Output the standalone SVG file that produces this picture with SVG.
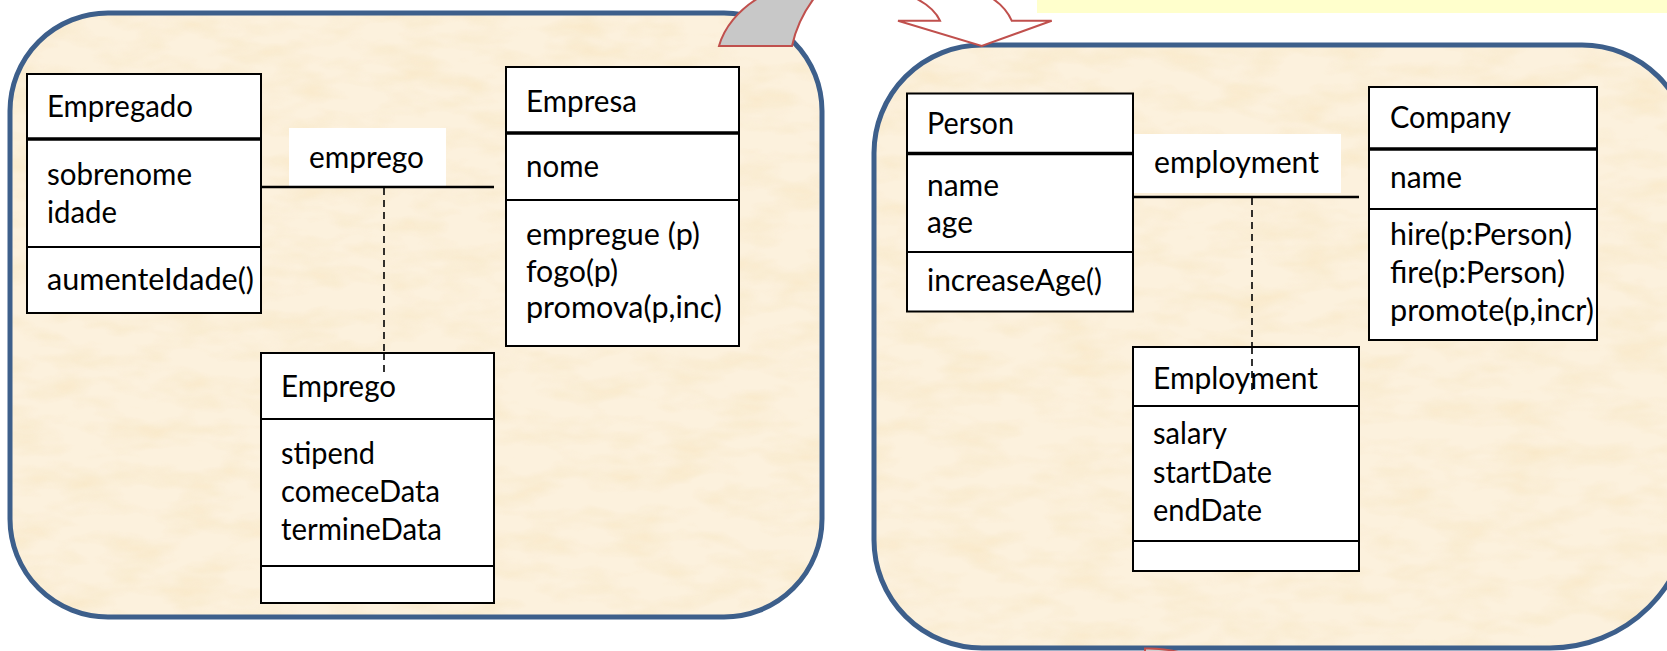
<svg xmlns="http://www.w3.org/2000/svg" width="1667" height="651" viewBox="0 0 1667 651">
  <style>
    .panel-fill { fill: #fcf1dd; }
    .panel-edge { fill: none; stroke: #3d5f8b; stroke-width: 5; }
    .box { fill: #ffffff; stroke: #000000; stroke-width: 2; }
    .div { stroke: #000000; stroke-width: 2; }
    .div-thick { stroke: #000000; stroke-width: 3.5; }
    .label-bg { fill: #ffffff; }
    .assoc { stroke: #000000; stroke-width: 2.5; fill: none; }
    .dash { stroke: #000000; stroke-width: 1.6; stroke-dasharray: 7 5; fill: none; }
    .arrow-red { stroke: #c0504d; stroke-width: 2; }
    text { font-family: Lato, "Liberation Sans", sans-serif; font-size: 30px; fill: #000000; }
  </style>
  <defs>
    <!-- parchment mottling laid over the panel fill -->
    <filter id="parchment" x="0" y="0" width="100%" height="100%" color-interpolation-filters="sRGB">
      <feTurbulence type="fractalNoise" baseFrequency="0.018 0.045" numOctaves="3" seed="7" result="noise"/>
      <feColorMatrix in="noise" type="matrix"
        values="0 0 0 0 0.96  0 0 0 0 0.87  0 0 0 0 0.68  0.8 0 0 0 -0.33" result="tint"/>
      <feComposite in="tint" in2="SourceGraphic" operator="in" result="mottle"/>
      <feMerge>
        <feMergeNode in="SourceGraphic"/>
        <feMergeNode in="mottle"/>
      </feMerge>
    </filter>
  </defs>

  <rect x="0" y="0" width="1667" height="651" fill="#ffffff"/>

  <!-- note strip, top right -->
  <rect x="1037" y="0" width="630" height="13" fill="#ffffcc"/>

  <!-- left panel -->
  <g id="panel-left">
    <rect class="panel-fill" x="10" y="13" width="812" height="604" rx="98" ry="98" filter="url(#parchment)"/>
    <rect class="panel-edge" x="10" y="13" width="812" height="604" rx="98" ry="98"/>
  </g>

  <!-- right panel (runs past the right edge) -->
  <g id="panel-right">
    <path class="panel-fill" filter="url(#parchment)"
      d="M982,45 H1582 A108,108 0 0 1 1690,153 V508 A140,140 0 0 1 1550,648 H982 A108,108 0 0 1 874,540 V153 A108,108 0 0 1 982,45 Z"/>
    <path class="panel-edge"
      d="M982,45 H1582 A108,108 0 0 1 1690,153 V508 A140,140 0 0 1 1550,648 H982 A108,108 0 0 1 874,540 V153 A108,108 0 0 1 982,45 Z"/>
  </g>

  <!-- curved block arrow between the panels -->
  <g id="curved-arrow">
    <path class="arrow-red" fill="#c8c8c8" d="M760,-3 C738,10 724,28 719,46 L792,46 C795,32 802,14 815,-3 Z"/>
    <path class="arrow-red" fill="#ffffff" d="M913,-3 C928,4 936,12 940,20.7 L898,20.7 L981.7,46 L1051.7,20.7 L1011.7,20.7 C1007,10 1000,3 990,-3 Z"/>
  </g>
  <g id="arrow-stub">
    <path class="arrow-red" fill="#d0d0d0" d="M1145,653 L1145,648.5 Q1165,648 1182,653 Z"/>
  </g>

  <!-- connectors -->
  <g id="connectors">
    <rect class="label-bg" x="289" y="128" width="157" height="59"/>
    <line class="assoc" x1="261" y1="187" x2="494" y2="187"/>
    <line class="dash" x1="384" y1="188" x2="384" y2="376"/>
    <text x="309" y="168" textLength="115" lengthAdjust="spacingAndGlyphs">emprego</text>

    <rect class="label-bg" x="1133" y="134" width="208" height="59"/>
    <line class="assoc" x1="1133" y1="197" x2="1359" y2="197"/>
    <line class="dash" x1="1252" y1="198" x2="1252" y2="391"/>
    <text x="1154" y="173" textLength="165" lengthAdjust="spacingAndGlyphs">employment</text>
  </g>

  <!-- Empregado -->
  <g id="node-empregado">
    <rect class="box" x="27" y="74" width="234" height="239"/>
    <line class="div-thick" x1="27" y1="139" x2="261" y2="139"/>
    <line class="div" x1="27" y1="247" x2="261" y2="247"/>
    <text x="47" y="117" textLength="146" lengthAdjust="spacingAndGlyphs">Empregado</text>
    <text x="47" y="185" textLength="145" lengthAdjust="spacingAndGlyphs">sobrenome</text>
    <text x="47" y="223" textLength="70" lengthAdjust="spacingAndGlyphs">idade</text>
    <text x="47" y="290" textLength="207" lengthAdjust="spacingAndGlyphs">aumenteIdade()</text>
  </g>

  <!-- Empresa -->
  <g id="node-empresa">
    <rect class="box" x="506" y="67" width="233" height="279"/>
    <line class="div-thick" x1="506" y1="133" x2="739" y2="133"/>
    <line class="div" x1="506" y1="200" x2="739" y2="200"/>
    <text x="526" y="112" textLength="111" lengthAdjust="spacingAndGlyphs">Empresa</text>
    <text x="526" y="177" textLength="73" lengthAdjust="spacingAndGlyphs">nome</text>
    <text x="526" y="245" textLength="174" lengthAdjust="spacingAndGlyphs">empregue (p)</text>
    <text x="526" y="282" textLength="92" lengthAdjust="spacingAndGlyphs">fogo(p)</text>
    <text x="526" y="318" textLength="196" lengthAdjust="spacingAndGlyphs">promova(p,inc)</text>
  </g>

  <!-- Emprego (association class) -->
  <g id="node-emprego">
    <rect class="box" x="261" y="353" width="233" height="250"/>
    <line class="div" x1="261" y1="419" x2="494" y2="419"/>
    <line class="div" x1="261" y1="566" x2="494" y2="566"/>
    <text x="281" y="397" textLength="115" lengthAdjust="spacingAndGlyphs">Emprego</text>
    <text x="281" y="464" textLength="94" lengthAdjust="spacingAndGlyphs">stipend</text>
    <text x="281" y="502" textLength="159" lengthAdjust="spacingAndGlyphs">comeceData</text>
    <text x="281" y="540" textLength="161" lengthAdjust="spacingAndGlyphs">termineData</text>
  </g>
  <line class="dash" x1="384" y1="353" x2="384" y2="376"/>

  <!-- Person -->
  <g id="node-person">
    <rect class="box" x="907" y="93.5" width="226" height="218"/>
    <line class="div-thick" x1="907" y1="153.5" x2="1133" y2="153.5"/>
    <line class="div" x1="907" y1="252" x2="1133" y2="252"/>
    <text x="927" y="134" textLength="87" lengthAdjust="spacingAndGlyphs">Person</text>
    <text x="927" y="196" textLength="72" lengthAdjust="spacingAndGlyphs">name</text>
    <text x="927" y="233" textLength="46" lengthAdjust="spacingAndGlyphs">age</text>
    <text x="927" y="291" textLength="175" lengthAdjust="spacingAndGlyphs">increaseAge()</text>
  </g>

  <!-- Company -->
  <g id="node-company">
    <rect class="box" x="1369" y="87" width="228" height="253"/>
    <line class="div-thick" x1="1369" y1="149" x2="1597" y2="149"/>
    <line class="div" x1="1369" y1="209" x2="1597" y2="209"/>
    <text x="1390" y="128" textLength="121" lengthAdjust="spacingAndGlyphs">Company</text>
    <text x="1390" y="188" textLength="72" lengthAdjust="spacingAndGlyphs">name</text>
    <text x="1390" y="245" textLength="182" lengthAdjust="spacingAndGlyphs">hire(p:Person)</text>
    <text x="1390" y="283" textLength="175" lengthAdjust="spacingAndGlyphs">fire(p:Person)</text>
    <text x="1390" y="321" textLength="204" lengthAdjust="spacingAndGlyphs">promote(p,incr)</text>
  </g>

  <!-- Employment (association class) -->
  <g id="node-employment">
    <rect class="box" x="1133" y="347" width="226" height="224"/>
    <line class="div" x1="1133" y1="406" x2="1359" y2="406"/>
    <line class="div" x1="1133" y1="541" x2="1359" y2="541"/>
    <text x="1153" y="389" textLength="165" lengthAdjust="spacingAndGlyphs">Employment</text>
    <text x="1153" y="444" textLength="74" lengthAdjust="spacingAndGlyphs">salary</text>
    <text x="1153" y="483" textLength="119" lengthAdjust="spacingAndGlyphs">startDate</text>
    <text x="1153" y="521" textLength="109" lengthAdjust="spacingAndGlyphs">endDate</text>
  </g>
  <line class="dash" x1="1252" y1="347" x2="1252" y2="391"/>
</svg>
